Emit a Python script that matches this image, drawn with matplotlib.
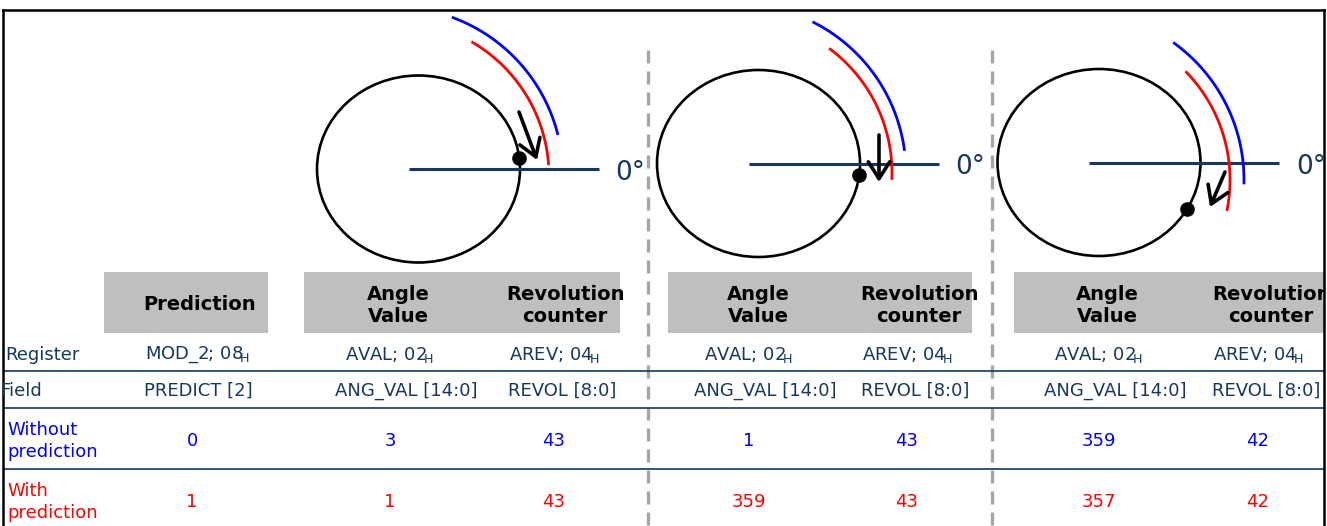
import numpy as np
import matplotlib.pyplot as plt
from matplotlib.patches import Ellipse, Rectangle

# table content
row_labels = ["Register", "Field", "Without\nprediction", "With\nprediction"]
row_colors = ["#17375e", "#17375e", "#0000ff", "#ff0000"]

pred_header = "Prediction"
pred_register = "MOD_2; 08"
pred_field = "PREDICT [2]"
pred_without = 0
pred_with = 1

angle_header = "Angle\nValue"
angle_register = "AVAL; 02"
angle_field = "ANG_VAL [14:0]"
rev_header = "Revolution\ncounter"
rev_register = "AREV; 04"
rev_field = "REVOL [8:0]"

# one entry per wheel snapshot
angle_without = [3, 1, 359]
angle_with = [1, 359, 357]
rev_without = [43, 43, 42]
rev_with = [43, 43, 42]

# dot position on each wheel, degrees
dot_deg = [7, -7, -30]

NAVY = "#17375e"
W, H = 1327, 526

fig = plt.figure(figsize=(W / 100, H / 100), dpi=100)
ax = fig.add_axes([3 / W, 0, (1324 - 3) / W, (H - 10) / H])
ax.set_xlim(3, 1324)
ax.set_ylim(H, 10)
ax.set_xticks([])
ax.set_yticks([])
for s in ["top", "left", "right"]:
    ax.spines[s].set_linewidth(1.8)
    ax.spines[s].set_color("black")
ax.spines["bottom"].set_visible(False)

# wheel layout (pixel coords)
wheel_cx = [418.5, 758.5, 1099]
wheel_cy = [169, 163.5, 162.5]
arc_c = [(394, 176), (737, 173), (1075, 180)]
arc_a0 = [4.5, -2, -11]
arrows = [((519, 112), (537, 160)), ((879, 135), (879, 182)), ((1225, 172), (1210, 207))]

for i in range(3):
    cx, cy = wheel_cx[i], wheel_cy[i]
    ax.add_patch(Ellipse((cx, cy), 203, 187, fill=False, ec="black", lw=1.9))
    ax.plot([cx - 10, cx + 180], [cy, cy], color=NAVY, lw=2.2, solid_capstyle="butt")
    ax.text(cx + 197, cy + 4, "0°", color=NAVY, fontsize=19, ha="left", va="center",
            clip_on=True)
    t = np.radians(dot_deg[i])
    ax.plot(cx + 101.5 * np.cos(t), cy - 93.5 * np.sin(t), "o", color="black", ms=9.5)
    # travel arcs
    ax0, ay0 = arc_c[i]
    for r, off, col in [(155, 0, "red"), (169, 10, "blue")]:
        tt = np.radians(np.linspace(arc_a0[i] + off, arc_a0[i] + off + 55, 60))
        ax.plot(ax0 + r * np.cos(tt), ay0 - r * np.sin(tt), color=col, lw=2.0)
    (x0, y0), (x1, y1) = arrows[i]
    ax.annotate("", xy=(x1, y1), xytext=(x0, y0),
                arrowprops=dict(arrowstyle="->,head_length=0.55,head_width=0.35",
                                color="black", lw=2.6, mutation_scale=22,
                                shrinkA=0, shrinkB=0))

# dashed separators
for x in [648, 992]:
    ax.plot([x, x], [50, H], color="#a6a6a6", lw=2.4, ls=(0, (3.9, 2.4)))

# header boxes
for x0, x1 in [(104, 268), (304, 620), (668, 972), (1014, 1330)]:
    ax.add_patch(Rectangle((x0, 272), x1 - x0, 61, color="#bfbfbf", lw=0, clip_on=True))

hdr = dict(fontsize=14, fontweight="bold", ha="center", va="center", linespacing=1.2,
           color="black", clip_on=True)
ax.text(200, 305, pred_header, **hdr)
angle_hx = [398, 758, 1107]
rev_hx = [565, 919, 1271]
for i in range(3):
    ax.text(angle_hx[i], 305, angle_header, **hdr)
    ax.text(rev_hx[i], 305, rev_header, **hdr)

# table rows
row_y = [355, 391, 441, 502]
row_x = [5, 0, 7, 7]
for lab, col, x, y in zip(row_labels, row_colors, row_x, row_y):
    ax.text(x, y, lab, color=col, fontsize=13, ha="left", va="center",
            linespacing=1.25, clip_on=True)

for y in [371, 408, 469]:
    ax.plot([3, 1324], [y, y], color=NAVY, lw=1.2)

sub = r"$\!_\mathregular{H}$"
body = dict(fontsize=13, ha="center", va="center", clip_on=True)
ax.text(198, row_y[0], pred_register + sub, color=NAVY, **body)
ax.text(198, row_y[1], pred_field, color=NAVY, **body)
ax.text(192, row_y[2], str(pred_without), color="#0000ff", **body)
ax.text(192, row_y[3], str(pred_with), color="#ff0000", **body)

angle_x = [390, 749, 1099]
rev_x = [554, 907, 1258]
for i in range(3):
    ax.text(angle_x[i], row_y[0], angle_register + sub, color=NAVY, **body)
    ax.text(rev_x[i], row_y[0], rev_register + sub, color=NAVY, **body)
    ax.text(angle_x[i] + 16, row_y[1], angle_field, color=NAVY, **body)
    ax.text(rev_x[i] + 8, row_y[1], rev_field, color=NAVY, **body)
    ax.text(angle_x[i], row_y[2], str(angle_without[i]), color="#0000ff", **body)
    ax.text(rev_x[i], row_y[2], str(rev_without[i]), color="#0000ff", **body)
    ax.text(angle_x[i], row_y[3], str(angle_with[i]), color="#ff0000", **body)
    ax.text(rev_x[i], row_y[3], str(rev_with[i]), color="#ff0000", **body)

fig.savefig("out.png", dpi=100)
